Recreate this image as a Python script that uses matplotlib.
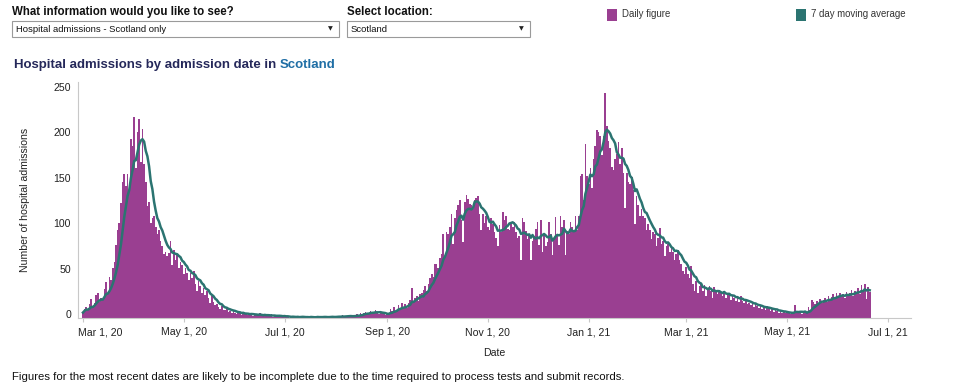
import matplotlib
matplotlib.use('Agg')
import matplotlib.pyplot as plt
import matplotlib.dates as mdates
import matplotlib.transforms as mtransforms
from matplotlib.patches import Rectangle
import pandas as pd

plt.rcParams['font.family'] = ['Liberation Sans', 'DejaVu Sans']

# daily hospital admissions
mar20 = [6, 10, 12, 9, 15, 21, 12, 17, 25, 27, 18, 22, 21, 32, 40, 28, 45,
         42, 55, 62, 80, 97, 105, 127, 150, 159, 145, 159, 141, 197, 189]
apr20 = [221, 165, 205, 219, 172, 208, 170, 150, 123, 128, 105, 110, 112,
         100, 92, 97, 85, 79, 70, 73, 68, 72, 85, 58, 75, 64, 70, 55, 62, 58]
may20 = [48, 55, 50, 42, 50, 44, 52, 38, 30, 41, 35, 28, 33, 25, 30, 22, 16,
         24, 18, 14, 15, 12, 10, 13, 9, 9, 11, 7, 8, 5, 9]
jun20 = [6, 4, 7, 5, 3, 6, 4, 5, 3, 4, 6, 2, 4, 3, 3, 5, 2, 3, 4, 2, 3, 2, 4,
         1, 3, 2, 2, 3, 1, 2]
jul20 = [2, 1, 2, 0, 1, 2, 1, 1, 2, 0, 1, 2, 1, 0, 1, 1, 2, 0, 1, 1, 2, 0, 1,
         2, 1, 1, 0, 2, 1, 2, 1]
aug20 = [1, 2, 1, 2, 3, 1, 2, 2, 3, 2, 1, 3, 2, 4, 3, 5, 4, 6, 7, 4, 5, 8, 6,
         5, 9, 7, 4, 6, 5, 4, 3]
sep20 = [4, 6, 10, 8, 12, 7, 9, 14, 10, 16, 12, 15, 11, 17, 20, 33, 16, 22,
         24, 19, 26, 28, 31, 35, 30, 38, 44, 48, 45, 60]
oct20 = [60, 55, 66, 70, 93, 68, 95, 93, 100, 115, 82, 110, 119, 125, 130,
         108, 84, 128, 135, 131, 126, 125, 120, 130, 132, 134, 115, 97, 115,
         105, 112]
nov20 = [100, 97, 110, 104, 95, 88, 79, 102, 95, 117, 108, 112, 98, 97, 106,
         100, 106, 95, 88, 90, 64, 110, 106, 96, 87, 92, 64, 85, 90, 98]
dec20 = [106, 80, 108, 73, 93, 79, 84, 106, 93, 69, 88, 111, 90, 80, 112, 100,
         108, 69, 96, 93, 106, 100, 97, 112, 97, 112, 156, 159, 130, 192, 156]
jan21 = [148, 165, 143, 175, 190, 207, 205, 200, 180, 200, 248, 212, 195, 187,
         166, 163, 175, 181, 194, 170, 187, 160, 121, 160, 150, 148, 155, 141,
         104, 134, 125]
feb21 = [112, 120, 112, 110, 97, 104, 97, 87, 95, 92, 79, 88, 99, 82, 85, 68,
         79, 82, 73, 78, 73, 64, 70, 75, 64, 60, 52, 49]
mar21 = [56, 48, 44, 57, 38, 30, 41, 27, 35, 38, 30, 36, 24, 32, 35, 30, 22,
         34, 29, 26, 31, 27, 24, 30, 22, 26, 27, 20, 25, 22, 19]
apr21 = [22, 18, 24, 19, 16, 21, 15, 17, 14, 18, 12, 15, 13, 11, 14, 10, 12,
         9, 13, 11, 8, 10, 7, 9, 8, 6, 9, 5, 7, 6]
may21 = [6, 5, 4, 7, 5, 14, 6, 5, 7, 4, 6, 8, 5, 12, 9, 20, 18, 15, 19, 17,
         21, 16, 20, 22, 18, 24, 19, 23, 26, 21, 27]
jun21 = [24, 28, 23, 26, 22, 29, 25, 27, 31, 24, 30, 28, 33, 26, 36, 30, 38,
         21, 34, 29]

daily = (mar20 + apr20 + may20 + jun20 + jul20 + aug20 + sep20 + oct20 +
         nov20 + dec20 + jan21 + feb21 + mar21 + apr21 + may21 + jun21)
dates = pd.date_range('2020-03-01', periods=len(daily), freq='D')
ma7 = pd.Series(daily).rolling(7, min_periods=1).mean()

tick_dates = pd.date_range('2020-03-01', '2021-07-01', freq='2MS')

PURPLE = '#9a3f91'
TEAL = '#2b7471'
W, H = 962, 390

fig = plt.figure(figsize=(W / 100, H / 100), dpi=100)

def fx(px):
    return px / W

def fy(py):
    return 1 - py / H

ax = fig.add_axes([fx(78), fy(318), fx(911 - 78), (318 - 82) / H])
ax.bar(dates, daily, width=1.0, color=PURPLE, linewidth=0)
ax.plot(dates, ma7, color=TEAL, lw=1.8, solid_joinstyle='round')

ax.set_xlim(pd.Timestamp('2020-02-27'), pd.Timestamp('2021-07-15'))
ax.set_ylim(0, 260)
ax.set_yticks([0, 50, 100, 150, 200, 250])
ax.set_xticks(tick_dates)
ax.xaxis.set_major_formatter(mdates.DateFormatter('%b %-d, %y'))

for s in ['top', 'right']:
    ax.spines[s].set_visible(False)
for s in ['left', 'bottom']:
    ax.spines[s].set_color('#c8c8c8')
    ax.spines[s].set_linewidth(0.8)
ax.tick_params(axis='both', colors='#c8c8c8', labelcolor='#222222',
               labelsize=7.6, length=3, width=0.8)
ax.tick_params(axis='y', length=0, pad=5)

# tableau puts the value labels slightly above their tick
shift = mtransforms.ScaledTranslation(0, 4 / 100, fig.dpi_scale_trans)
for lab in ax.get_yticklabels():
    lab.set_transform(lab.get_transform() + shift)
# first date label is pushed right so it starts at the axis
first = ax.get_xticklabels()[0]
first.set_horizontalalignment('left')
first.set_transform(first.get_transform() + mtransforms.ScaledTranslation(
    -5 / 100, 0, fig.dpi_scale_trans))

ax.set_ylabel('Number of hospital admissions', fontsize=7.6, color='#222222',
              labelpad=17)
ax.set_xlabel('Date', fontsize=7.6, color='#222222', labelpad=8)

# header controls
fig.text(fx(12), fy(12), 'What information would you like to see?',
         fontsize=8.3, fontweight='bold', va='center', color='#111111')
fig.text(fx(347), fy(12), 'Select location:', fontsize=8.3,
         fontweight='bold', va='center', color='#111111')
for x0, x1, label in [(12, 339, 'Hospital admissions - Scotland only'),
                      (347, 530, 'Scotland')]:
    fig.add_artist(Rectangle((fx(x0), fy(37)), fx(x1 - x0), 16 / H,
                             transform=fig.transFigure, fill=False,
                             ec='#9a9a9a', lw=0.8))
    fig.text(fx(x0 + 4), fy(29), label, fontsize=6.8, va='center',
             color='#111111')
    fig.text(fx(x1 - 9), fy(29), '\u25BC', fontsize=4.5, va='center',
             ha='center', color='#222222', family='DejaVu Sans')

# legend
for x0, color, label in [(607, PURPLE, 'Daily figure'),
                         (796, TEAL, '7 day moving average')]:
    fig.add_artist(Rectangle((fx(x0), fy(21)), fx(10), 12 / H,
                             transform=fig.transFigure, color=color, lw=0))
    fig.text(fx(x0 + 15), fy(14), label, fontsize=6.9, va='center',
             color='#333333')

t1 = fig.text(fx(14), fy(65), 'Hospital admissions by admission date in ',
              fontsize=9.5, fontweight='bold', va='center', color='#25285a')
fig.add_artist(plt.Annotation('Scotland', xy=(1, 0), xycoords=t1,
                              va='bottom', fontsize=9.5, fontweight='bold',
                              color='#1f6ea5'))

fig.text(fx(12), fy(377), 'Figures for the most recent dates are likely to be '
         'incomplete due to the time required to process tests and submit '
         'records.', fontsize=8.2, va='center', color='#111111')

fig.savefig('out.png', dpi=100)
